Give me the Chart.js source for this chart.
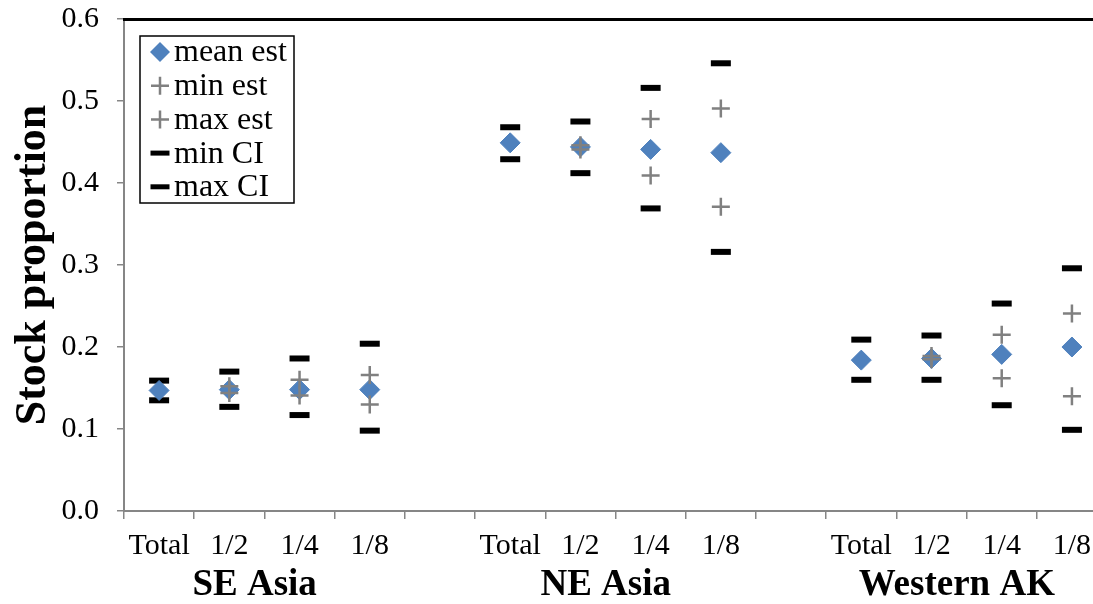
<!DOCTYPE html>
<html>
<head>
<meta charset="utf-8">
<script src="https://cdn.jsdelivr.net/npm/chart.js@4.4.0/dist/chart.umd.min.js"></script>
<style>
html, body { margin: 0; padding: 0; background: #fff; overflow: hidden; }
#wrap { width: 1093px; height: 604px; }
</style>
</head>
<body>
<div id="wrap"><canvas id="myChart"></canvas></div>
<script>
const groups = ["SE Asia", "NE Asia", "Western AK"];
const subLabels = ["Total", "1/2", "1/4", "1/8"];

// one row per group, one value per sub label
const meanEst = [
    [0.147, 0.148, 0.148, 0.148],
    [0.449, 0.444, 0.441, 0.437],
    [0.184, 0.186, 0.191, 0.200],
];
const minEst = [
    [null, 0.144, 0.141, 0.130],
    [null, 0.441, 0.409, 0.371],
    [null, 0.185, 0.162, 0.140],
];
const maxEst = [
    [null, 0.152, 0.160, 0.166],
    [null, 0.446, 0.478, 0.491],
    [null, 0.189, 0.215, 0.241],
];
const minCI = [
    [0.135, 0.127, 0.117, 0.098],
    [0.429, 0.412, 0.369, 0.316],
    [0.160, 0.160, 0.129, 0.099],
];
const maxCI = [
    [0.159, 0.170, 0.186, 0.204],
    [0.468, 0.475, 0.516, 0.546],
    [0.209, 0.214, 0.253, 0.296],
];

const yTicks = [0, 0.1, 0.2, 0.3, 0.4, 0.5, 0.6];

const serif = "'Liberation Serif', 'Times New Roman', serif";
const gap = subLabels.length + 1; // one empty slot between groups
const axisGrey = "#868686";

// x position of a sub label inside a group
const xPos = (g, i) => g * gap + i;

function toPoints(rows) {
    const pts = [];
    rows.forEach((row, g) => {
        row.forEach((v, i) => {
            if (v !== null) pts.push({ x: xPos(g, i), y: v });
        });
    });
    return pts;
}

const slotLabels = [];
const slotPos = [];
groups.forEach((g, gi) => {
    subLabels.forEach((s, i) => {
        slotLabels.push(s);
        slotPos.push(xPos(gi, i));
    });
});
// group names sit a little left of the group middle, like the original
const groupPos = groups.map((g, gi) => xPos(gi, (subLabels.length - 1) / 2 - 0.14));
const boundaries = [];
for (let b = -0.5; b < groups.length * gap - 1; b += 1) boundaries.push(b);

const xMin = -0.5;
const xMax = 13.3;

// keep tick labels from pushing the plot area around
const noPad = (axis) => {
    axis.paddingLeft = 0;
    axis.paddingRight = 0;
    axis.paddingTop = 0;
    axis.paddingBottom = 0;
};

const data = {
    datasets: [
        {
            label: "mean est",
            data: toPoints(meanEst),
            pointStyle: "rectRot",
            pointRadius: 10,
            pointHoverRadius: 10,
            backgroundColor: "#4f81bd",
            borderColor: "#4f81bd",
            borderWidth: 1,
            order: 2,
        },
        {
            label: "min est",
            data: toPoints(minEst),
            pointStyle: "cross",
            pointRadius: 9,
            pointHoverRadius: 9,
            borderColor: "#808080",
            backgroundColor: "#808080",
            borderWidth: 2.5,
            order: 0,
        },
        {
            label: "max est",
            data: toPoints(maxEst),
            pointStyle: "cross",
            pointRadius: 9,
            pointHoverRadius: 9,
            borderColor: "#808080",
            backgroundColor: "#808080",
            borderWidth: 2.5,
            order: 1,
        },
        {
            label: "min CI",
            data: toPoints(minCI),
            pointStyle: "line",
            pointRadius: 10,
            pointHoverRadius: 10,
            borderColor: "#000000",
            backgroundColor: "#000000",
            borderWidth: 6,
            order: 3,
        },
        {
            label: "max CI",
            data: toPoints(maxCI),
            pointStyle: "line",
            pointRadius: 10,
            pointHoverRadius: 10,
            borderColor: "#000000",
            backgroundColor: "#000000",
            borderWidth: 6,
            order: 4,
        },
    ],
};

function drawMarker(ctx, style, x, y, r, color, lw) {
    ctx.save();
    ctx.fillStyle = color;
    ctx.strokeStyle = color;
    ctx.lineWidth = lw;
    ctx.beginPath();
    if (style === "rectRot") {
        ctx.moveTo(x - r, y);
        ctx.lineTo(x, y - r);
        ctx.lineTo(x + r, y);
        ctx.lineTo(x, y + r);
        ctx.closePath();
        ctx.fill();
    } else if (style === "cross") {
        ctx.moveTo(x - r, y);
        ctx.lineTo(x + r, y);
        ctx.moveTo(x, y - r);
        ctx.lineTo(x, y + r);
        ctx.stroke();
    } else {
        ctx.moveTo(x - r, y);
        ctx.lineTo(x + r, y);
        ctx.stroke();
    }
    ctx.restore();
}

// legend box sits inside the plot, top left
const boxLegend = {
    id: "boxLegend",
    afterDraw(chart) {
        const ctx = chart.ctx;
        const area = chart.chartArea;
        const left = area.left + 16;
        const top = area.top + 17;
        const w = 154;
        const h = 167;
        ctx.save();
        ctx.strokeStyle = "#000";
        ctx.lineWidth = 1.5;
        ctx.strokeRect(left, top, w, h);
        ctx.font = "32px " + serif;
        ctx.fillStyle = "#000";
        ctx.textBaseline = "middle";
        chart.data.datasets.forEach((ds, i) => {
            const y = top + 16 + i * 33.7;
            const isLine = ds.pointStyle === "line";
            drawMarker(ctx, ds.pointStyle, left + 20, y, isLine ? 9.5 : ds.pointRadius, ds.borderColor, isLine ? 5 : ds.borderWidth);
            ctx.fillText(ds.label, left + 34, y + 1);
        });
        ctx.restore();
    },
};

const config = {
    type: "scatter",
    data,
    options: {
        responsive: true,
        maintainAspectRatio: false,
        animation: false,
        layout: {
            autoPadding: false,
            padding: { top: 19, left: 0, right: 0, bottom: 0 },
        },
        plugins: {
            legend: { display: false },
            tooltip: { enabled: false },
        },
        scales: {
            y: {
                min: 0,
                max: 0.6,
                afterBuildTicks: (axis) => {
                    axis.ticks = yTicks.map((v) => ({ value: v }));
                },
                afterFit: (axis) => {
                    axis.width = 124;
                    noPad(axis);
                },
                ticks: {
                    color: "#000",
                    padding: 18,
                    font: { family: serif, size: 30 },
                    callback: (v) => v.toFixed(1),
                },
                grid: {
                    drawOnChartArea: false,
                    tickLength: 7,
                    color: axisGrey,
                    lineWidth: 1.5,
                },
                border: { color: axisGrey, width: 2 },
                title: {
                    display: true,
                    text: "Stock proportion",
                    color: "#000",
                    font: { family: serif, size: 44, weight: "bold" },
                    padding: { top: 7, bottom: 0 },
                },
            },
            xTop: {
                type: "linear",
                position: "top",
                min: xMin,
                max: xMax,
                ticks: { display: false },
                grid: { display: false, drawTicks: false },
                border: { color: "#000", width: 3 },
                afterFit: (axis) => {
                    axis.height = 0;
                    noPad(axis);
                },
            },
            x: {
                type: "linear",
                position: "bottom",
                weight: 0,
                min: xMin,
                max: xMax,
                afterBuildTicks: (axis) => {
                    axis.ticks = boundaries.map((v) => ({ value: v }));
                },
                afterFit: (axis) => {
                    axis.height = 8;
                    noPad(axis);
                },
                ticks: { display: false },
                grid: {
                    drawOnChartArea: false,
                    tickLength: 8,
                    color: axisGrey,
                    lineWidth: 1.5,
                },
                border: { color: axisGrey, width: 2 },
            },
            xLabels: {
                type: "linear",
                position: "bottom",
                weight: 1,
                min: xMin,
                max: xMax,
                afterBuildTicks: (axis) => {
                    axis.ticks = slotPos.map((v) => ({ value: v }));
                },
                afterFit: (axis) => {
                    axis.height = 40;
                    noPad(axis);
                },
                ticks: {
                    autoSkip: false,
                    maxRotation: 0,
                    color: "#000",
                    padding: 0,
                    font: { family: serif, size: 30 },
                    callback: (v, idx) => slotLabels[idx],
                },
                // hidden grid; tickLength only pushes the labels down
                grid: { display: false, drawTicks: true, tickLength: 9 },
                border: { display: false },
            },
            xGroups: {
                type: "linear",
                position: "bottom",
                weight: 2,
                min: xMin,
                max: xMax,
                afterBuildTicks: (axis) => {
                    axis.ticks = groupPos.map((v) => ({ value: v }));
                },
                afterFit: (axis) => {
                    axis.height = 45;
                    noPad(axis);
                },
                ticks: {
                    autoSkip: false,
                    maxRotation: 0,
                    color: "#000",
                    padding: 0,
                    font: { family: serif, size: 37, weight: "bold" },
                    callback: (v, idx) => groups[idx],
                },
                grid: { display: false, drawTicks: true, tickLength: 4 },
                border: { display: false },
            },
        },
    },
    plugins: [boxLegend],
};

const ctx = document.getElementById("myChart").getContext("2d");
const scatterChart = new Chart(ctx, config);
</script>
</body>
</html>
